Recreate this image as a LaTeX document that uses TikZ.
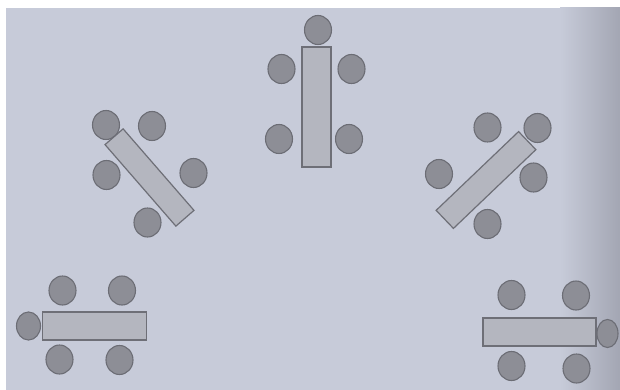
\documentclass[tikz,border=0pt]{standalone}
\usetikzlibrary{shapes.geometric}
\definecolor{paper}{HTML}{C7CBD9}
\definecolor{paperdark}{HTML}{A3A6B3}
\definecolor{seatfill}{HTML}{8D8E96}
\definecolor{seatline}{HTML}{6C6D75}
\definecolor{tablefill}{HTML}{B4B6BF}
\definecolor{tableline}{HTML}{6E6F77}
\tikzset{
  seat/.style={ellipse, draw=seatline, fill=seatfill, line width=1.1pt, inner sep=0pt, minimum width=27pt, minimum height=29pt},
  endseat/.style={seat, minimum width=24pt, minimum height=28pt},
  tablebox/.style={rectangle, draw=tableline, fill=tablefill, line width=1.2pt, inner sep=0pt}
}
\begin{document}
\begin{tikzpicture}[x=1pt,y=-1pt]
\useasboundingbox (0,0) rectangle (620,390);
\fill[white] (0,0) rectangle (620,390);
\fill[paper] (6,8) rectangle (620,390);
\shade[left color=paper, right color=paperdark] (560,8) rectangle (620,390);
% top table
\node[tablebox, minimum width=29pt, minimum height=120pt] (t1) at (316.5,107) {};
\node[seat] (t1h) at (318,30) {};
\node[seat] (t1a) at (281.5,69) {};
\node[seat] (t1b) at (351.5,69) {};
\node[seat] (t1c) at (279,139) {};
\node[seat] (t1d) at (349,139) {};
% upper left table
\node[tablebox, minimum width=108pt, minimum height=24pt, rotate=-49] (t2) at (149.5,177.5) {};
\node[seat] (t2a) at (106,125) {};
\node[seat] (t2b) at (152,126) {};
\node[seat] (t2c) at (106.5,175) {};
\node[seat] (t2d) at (193.5,173) {};
\node[seat] (t2e) at (147.5,222.5) {};
% upper right table
\node[tablebox, minimum width=114pt, minimum height=25pt, rotate=43.7] (t3) at (486,180) {};
\node[seat] (t3a) at (487.5,127.5) {};
\node[seat] (t3b) at (537.5,128) {};
\node[seat] (t3c) at (439,174) {};
\node[seat] (t3d) at (533.5,177.5) {};
\node[seat] (t3e) at (487.5,224) {};
% bottom left table
\node[tablebox, minimum width=104pt, minimum height=28pt] (t4) at (94.5,326) {};
\node[seat] (t4a) at (62.5,290.5) {};
\node[seat] (t4b) at (122,290.5) {};
\node[endseat] (t4c) at (28.5,326) {};
\node[seat] (t4d) at (59.5,359.5) {};
\node[seat] (t4e) at (119.5,360) {};
% bottom right table
\node[tablebox, minimum width=113pt, minimum height=28pt] (t5) at (539.5,332) {};
\node[seat] (t5a) at (511.5,295) {};
\node[seat] (t5b) at (576,295.5) {};
\node[endseat, minimum width=21pt] (t5c) at (607.5,333.5) {};
\node[seat] (t5d) at (511.5,366) {};
\node[seat] (t5e) at (576.5,368.5) {};
\end{tikzpicture}
\end{document}
